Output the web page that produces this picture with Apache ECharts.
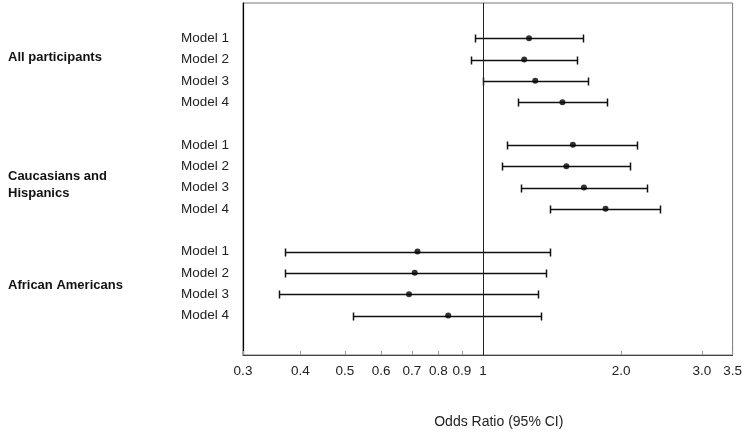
<!DOCTYPE html>
<html>
<head>
<meta charset="utf-8">
<script src="https://cdn.jsdelivr.net/npm/echarts@6/dist/echarts.min.js"></script>
<style>
  html, body { margin: 0; padding: 0; background: #fff; }
  #chart { width: 745px; height: 434px; }
</style>
</head>
<body>
<div id="chart"></div>
<script>
const groups = ['All participants', 'Caucasians and\nHispanics', 'African Americans']
const models = ['Model 1', 'Model 2', 'Model 3', 'Model 4']
// odds ratios and 95% CI, one row per model within each group
const oddsRatio = [
  [1.26, 1.23, 1.30, 1.49],
  [1.57, 1.52, 1.66, 1.85],
  [0.72, 0.71, 0.69, 0.84],
]
const ciLow = [
  [0.96, 0.94, 1.00, 1.19],
  [1.13, 1.10, 1.21, 1.40],
  [0.37, 0.37, 0.36, 0.52],
]
const ciHigh = [
  [1.65, 1.60, 1.69, 1.86],
  [2.17, 2.09, 2.28, 2.43],
  [1.40, 1.37, 1.32, 1.34],
]
const xTicks = [0.3, 0.4, 0.5, 0.6, 0.7, 0.8, 0.9, 1, 2, 3, 3.5]
const xTickLabels = ['0.3', '0.4', '0.5', '0.6', '0.7', '0.8', '0.9', '1', '2.0', '3.0', '3.5']

const log = (v) => Math.log10(v)
const rowsPerGroup = models.length + 1
const groupLabelRows = [0.89, 6.9, 11.6]

const points = []
const bars = []
const modelRows = []
groups.forEach((g, gi) => {
  models.forEach((m, mi) => {
    const row = gi * rowsPerGroup + mi
    modelRows.push(row)
    points.push([log(oddsRatio[gi][mi]), row])
    bars.push([log(ciLow[gi][mi]), log(ciHigh[gi][mi]), row])
  })
})

const chart = echarts.init(document.getElementById('chart'))

const font = 'Liberation Sans, Arial, sans-serif'
const yMin = -1.65
const yMax = 14.85

const option = {
  animation: false,
  grid: {
    left: 243,
    right: 12,
    top: 3,
    bottom: 78,
    show: true,
    borderColor: '#777',
    borderWidth: 1,
  },
  xAxis: {
    type: 'value',
    min: log(0.3),
    max: log(3.5),
    name: 'Odds Ratio (95% CI)',
    nameLocation: 'middle',
    nameGap: 60,
    nameTextStyle: {
      fontFamily: font,
      fontSize: 14,
      color: '#222',
      padding: [0, 0, 0, 22],
    },
    axisLine: { show: true, onZero: false, lineStyle: { color: '#444', width: 1 } },
    axisTick: {
      show: true,
      inside: true,
      length: 4,
      lineStyle: { color: '#999' },
      customValues: xTicks.map(log),
    },
    axisLabel: {
      fontFamily: font,
      fontSize: 13.5,
      color: '#222',
      margin: 9,
      customValues: xTicks.map(log),
      formatter: (v) => {
        const i = xTicks.findIndex((t) => Math.abs(log(t) - v) < 1e-6)
        return i >= 0 ? xTickLabels[i] : ''
      },
    },
    splitLine: { show: false },
  },
  yAxis: [
    {
      type: 'value',
      inverse: true,
      min: yMin,
      max: yMax,
      axisLine: { show: true, onZero: false, lineStyle: { color: '#000', width: 1.2 } },
      axisTick: { show: false },
      splitLine: { show: false },
      axisLabel: {
        fontFamily: font,
        fontSize: 13.5,
        color: '#222',
        margin: 14,
        customValues: modelRows,
        formatter: (v) => models[Math.round(v) % rowsPerGroup] || '',
      },
    },
    {
      type: 'value',
      position: 'left',
      inverse: true,
      min: yMin,
      max: yMax,
      axisLine: { show: false, onZero: false },
      axisTick: { show: false },
      splitLine: { show: false },
      axisLabel: {
        fontFamily: font,
        fontSize: 13,
        fontWeight: 'bold',
        color: '#111',
        align: 'left',
        lineHeight: 17,
        margin: 235,
        customValues: groupLabelRows,
        formatter: (v) => {
          const i = groupLabelRows.findIndex((r) => Math.abs(r - v) < 1e-6)
          return i >= 0 ? groups[i] : ''
        },
      },
    },
  ],
  series: [
    {
      type: 'custom',
      data: bars,
      renderItem: (params, api) => {
        const lo = api.coord([api.value(0), api.value(2)])
        const hi = api.coord([api.value(1), api.value(2)])
        const y = Math.round(lo[1]) + 0.5
        const x1 = Math.round(lo[0]) + 0.5
        const x2 = Math.round(hi[0]) + 0.5
        const cap = 4
        const style = { stroke: '#111', lineWidth: 1.5 }
        return {
          type: 'group',
          children: [
            { type: 'line', shape: { x1: x1, y1: y, x2: x2, y2: y }, style },
            { type: 'line', shape: { x1: x1, y1: y - cap, x2: x1, y2: y + cap }, style },
            { type: 'line', shape: { x1: x2, y1: y - cap, x2: x2, y2: y + cap }, style },
          ],
        }
      },
      z: 2,
    },
    {
      type: 'scatter',
      data: points,
      symbol: 'circle',
      symbolSize: 6,
      itemStyle: { color: '#000' },
      z: 3,
      markLine: {
        silent: true,
        symbol: 'none',
        label: { show: false },
        lineStyle: { color: '#222', width: 1, type: 'solid' },
        data: [{ xAxis: 0 }],
      },
    },
  ],
}
chart.setOption(option)
</script>
</body>
</html>
